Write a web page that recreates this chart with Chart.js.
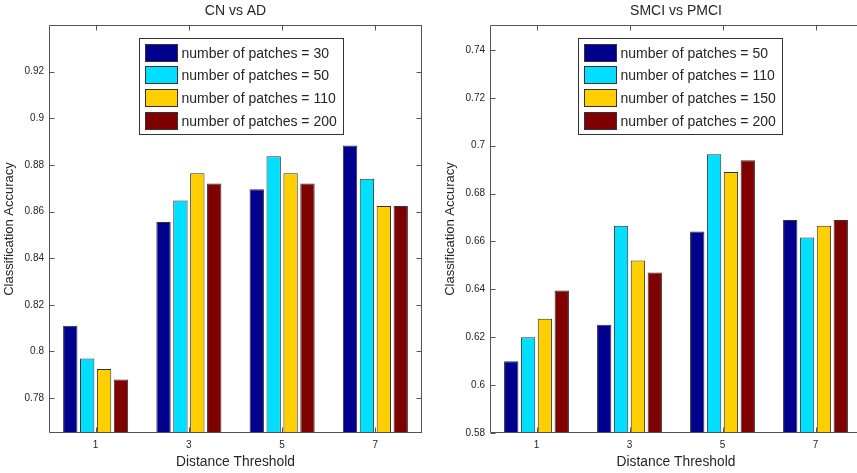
<!DOCTYPE html>
<html><head><meta charset="utf-8">
<script src="https://cdn.jsdelivr.net/npm/chart.js@4.4.1/dist/chart.umd.min.js"></script>
<style>
html,body{margin:0;padding:0;width:857px;height:473px;overflow:hidden;background:#fff;}
#w1{position:absolute;left:0;top:0;width:428px;height:473px;overflow:hidden;}
#w2{position:absolute;left:441px;top:0;width:416px;height:473px;overflow:hidden;}
canvas{display:block;}
</style></head><body>
<div id="w1"><canvas id="c1" width="428" height="473"></canvas></div>
<div id="w2"><canvas id="c2" width="427" height="473"></canvas></div>
<script>
// ---- data ----
const categories = ['1', '3', '5', '7'];

const leftTitle = 'CN vs AD';
const leftLabels = ['number of patches = 30', 'number of patches = 50', 'number of patches = 110', 'number of patches = 200'];
const leftP30  = [0.811, 0.8555, 0.8696, 0.8883];
const leftP50  = [0.797, 0.8647, 0.8837, 0.8740];
const leftP110 = [0.7925, 0.8764, 0.8764, 0.8624];
const leftP200 = [0.788, 0.8720, 0.8720, 0.8624];
const leftYTicks = [0.78, 0.80, 0.82, 0.84, 0.86, 0.88, 0.90, 0.92];
const leftYMin = 0.765, leftYMax = 0.94;

const rightTitle = 'SMCI vs PMCI';
const rightLabels = ['number of patches = 50', 'number of patches = 110', 'number of patches = 150', 'number of patches = 200'];
const rightP50  = [0.610, 0.6252, 0.6642, 0.6690];
const rightP110 = [0.620, 0.6666, 0.6964, 0.6617];
const rightP150 = [0.6277, 0.6520, 0.6890, 0.6666];
const rightP200 = [0.6395, 0.6470, 0.6939, 0.6690];
const rightYTicks = [0.58, 0.60, 0.62, 0.64, 0.66, 0.68, 0.70, 0.72, 0.74];
const rightYMin = 0.58, rightYMax = 0.7504;

const xTitle = 'Distance Threshold';
const yTitle = 'Classification Accuracy';
const seriesColors = ['#00008F', '#00DFFF', '#FFCF00', '#800000'];

// ---- drawing ----
const FONT = '"Liberation Sans", Arial, Helvetica, sans-serif';
const AXIS = '#555555';
const TEXT = '#262626';

const matlabFrame = {
  id: 'matlabFrame',
  afterDraw(chart, args, opts) {
    const ctx = chart.ctx;
    const a = chart.chartArea;
    const L = Math.round(a.left) + 0.5, R = Math.round(a.right) - 0.5;
    const T = Math.round(a.top) + 0.5, B = Math.round(a.bottom) - 0.5;
    ctx.save();
    ctx.strokeStyle = AXIS;
    ctx.lineWidth = 1;
    ctx.beginPath();
    ctx.moveTo(L, T); ctx.lineTo(L, B); ctx.lineTo(R + 0.5, B);
    ctx.moveTo(L, T); ctx.lineTo(R + 0.5, T);
    if (opts.drawRight) { ctx.moveTo(R, T); ctx.lineTo(R, B); }
    const ys = chart.scales.y, xs = chart.scales.x;
    const tl = 5;
    ys.ticks.forEach(t => {
      const y = Math.round(ys.getPixelForValue(t.value)) + 0.5;
      ctx.moveTo(L, y); ctx.lineTo(L + tl, y);
      if (opts.drawRight) { ctx.moveTo(R, y); ctx.lineTo(R - tl, y); }
    });
    xs.ticks.forEach((t, i) => {
      const x = Math.round(xs.getPixelForTick(i)) + 0.5;
      ctx.moveTo(x, B); ctx.lineTo(x, B - tl);
      ctx.moveTo(x, T); ctx.lineTo(x, T + tl);
    });
    ctx.stroke();

    // title centred on the axes
    ctx.fillStyle = TEXT;
    ctx.font = '14px ' + FONT;
    ctx.textAlign = 'center';
    ctx.textBaseline = 'middle';
    ctx.fillText(opts.title, (a.left + a.right) / 2, 11);

    // legend box
    const bx = Math.round(a.left + opts.legendDx) + 0.5;
    const by = Math.round(a.top + 13) + 0.5;
    const bw = 204, bh = 96;
    ctx.fillStyle = '#ffffff';
    ctx.fillRect(bx, by, bw, bh);
    ctx.strokeStyle = '#333333';
    ctx.strokeRect(bx, by, bw, bh);
    ctx.textAlign = 'left';
    chart.data.datasets.forEach((ds, i) => {
      const sy = Math.round(by + 5 + i * 22.7) + 0.5;
      ctx.fillStyle = ds.backgroundColor;
      ctx.fillRect(bx + 6, sy, 32, 17);
      ctx.strokeStyle = '#333333';
      ctx.strokeRect(bx + 6, sy, 32, 17);
      ctx.fillStyle = TEXT;
      ctx.font = '14px ' + FONT;
      ctx.fillText(ds.label, bx + 42, sy + 9.5);
    });
    ctx.restore();
  }
};

function makeChart(id, title, labels, series, yTicks, yMin, yMax, legendDx, drawRight) {
  return new Chart(document.getElementById(id), {
    type: 'bar',
    data: {
      labels: categories,
      datasets: series.map((d, i) => ({
        label: labels[i],
        data: d,
        backgroundColor: seriesColors[i],
        borderColor: '#333333',
        borderWidth: 1,
        borderSkipped: 'start',
        categoryPercentage: 0.725,
        barPercentage: 0.85
      }))
    },
    options: {
      responsive: false,
      animation: false,
      events: [],
      layout: { padding: { top: 25, right: 6, left: 0, bottom: 0 } },
      plugins: {
        legend: { display: false },
        tooltip: { enabled: false },
        title: { display: false },
        matlabFrame: { title: title, legendDx: legendDx, drawRight: drawRight }
      },
      scales: {
        x: {
          type: 'category',
          offset: true,
          grid: { display: false, drawTicks: false },
          border: { display: false },
          ticks: { color: TEXT, font: { family: FONT, size: 10 }, padding: 6, maxRotation: 0 },
          title: { display: true, text: xTitle, color: TEXT, font: { family: FONT, size: 13.8 }, padding: { top: 0, bottom: 2.5 } },
          afterFit: s => { s.height = 40; }
        },
        y: {
          min: yMin,
          max: yMax,
          grid: { display: false, drawTicks: false },
          border: { display: false },
          afterBuildTicks: s => { s.ticks = yTicks.map(v => ({ value: v })); },
          ticks: {
            color: TEXT,
            font: { family: FONT, size: 10 },
            padding: 5,
            callback: v => String(+Number(v).toFixed(2))
          },
          title: { display: true, text: yTitle, color: TEXT, font: { family: FONT, size: 13 }, padding: { top: 2, bottom: 0 } },
          afterFit: s => { s.width = 49; }
        }
      }
    },
    plugins: [matlabFrame]
  });
}

makeChart('c1', leftTitle, leftLabels, [leftP30, leftP50, leftP110, leftP200], leftYTicks, leftYMin, leftYMax, 90, true);
makeChart('c2', rightTitle, rightLabels, [rightP50, rightP110, rightP150, rightP200], rightYTicks, rightYMin, rightYMax, 88, false);
</script>
</body></html>
